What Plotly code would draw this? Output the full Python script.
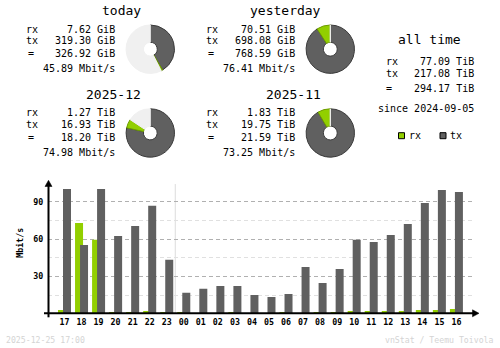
import plotly.graph_objects as go

W, H = 500, 348

# ---- hourly traffic for the last 24 hours (Mbit/s) ----
hours = ["17", "18", "19", "20", "21", "22", "23", "00", "01", "02", "03", "04",
         "05", "06", "07", "08", "09", "10", "11", "12", "13", "14", "15", "16"]
rx_mbit = [3.0, 72.9, 59.5, 1.4, 1.4, 2.2, 1.4, 1.4, 0.3, 0.3, 1.4, 0.3,
           0.3, 1.4, 0.3, 1.4, 1.4, 2.2, 2.2, 2.2, 2.2, 3.0, 3.0, 3.8]
tx_mbit = [100.3, 55.3, 100.3, 62.5, 70.5, 86.9, 43.4, 16.9, 20.1, 22.3, 22.3, 15.0,
           13.4, 15.8, 37.6, 24.7, 36.0, 59.5, 57.7, 63.3, 72.1, 89.0, 99.5, 97.9]
y_major = [30, 60, 90]
y_minor = [15, 45, 75]

# ---- period summaries ----
periods = ["today", "yesterday", "2025-12", "2025-11"]
period_unit = ["GiB", "GiB", "TiB", "TiB"]
period_rx = [7.62, 70.51, 1.27, 1.83]
period_tx = [319.30, 698.08, 16.93, 19.75]
period_total = [326.92, 768.59, 18.20, 21.59]
period_rate = [45.89, 76.41, 74.98, 73.25]

alltime_unit = "TiB"
alltime_rx = 77.09
alltime_tx = 217.08
alltime_total = 294.17
alltime_since = "2024-09-05"

stamp = "2025-12-25 17:00"
credit = "vnStat / Teemu Toivola"

RX_COLOR = "#92CF00"
TX_COLOR = "#606060"
RX_EDGE = "#6E9C00"
TX_EDGE = "#3A3A3A"
REST_COLOR = "#F0F0F0"
MONO = "DejaVu Sans Mono"


def px(x):
    return x / W


def py(y):
    return 1 - y / H


annotations = []
shapes = []


def text(x, y, s, size=10, xanchor="left", color="#000000", weight="normal", angle=0):
    annotations.append(dict(
        x=px(x), y=py(y), xref="paper", yref="paper", text=s, showarrow=False,
        xanchor=xanchor, yanchor="middle", textangle=angle, borderpad=0,
        font=dict(family=MONO, size=size, color=color, weight=weight),
    ))


fig = go.Figure()

# ---- summary blocks: text + donut per period ----
origins = [(0, 0), (180, 0), (0, 83.8), (180, 83.8)]
pairs = [(0, 1), (0, 1), (2, 3), (2, 3)]
for k, name in enumerate(periods):
    ox, oy = origins[k]
    u = period_unit[k]
    text(141.7 + ox, 10.8 + oy, name, size=13, xanchor="right")
    text(25.3 + ox, 29.0 + oy, "rx")
    text(25.3 + ox, 40.7 + oy, "tx")
    text(31.3 + ox, 54.0 + oy, "=", xanchor="center")
    text(115.5 + ox, 29.0 + oy, f"{period_rx[k]:.2f} {u}", xanchor="right")
    text(115.5 + ox, 40.7 + oy, f"{period_tx[k]:.2f} {u}", xanchor="right")
    text(115.5 + ox, 54.0 + oy, f"{period_total[k]:.2f} {u}", xanchor="right")
    text(115.5 + ox, 68.3 + oy, f"{period_rate[k]:.2f} Mbit/s", xanchor="right")

    ref = max(period_total[i] for i in pairs[k])
    rest = ref - period_total[k]
    cx, cy, r = 150.3 + ox, 49.2 + oy, 24.2
    fig.add_trace(go.Pie(
        values=[period_tx[k], period_rx[k], rest],
        marker=dict(colors=[TX_COLOR, RX_COLOR, REST_COLOR],
                    line=dict(color=[TX_EDGE, RX_EDGE, REST_COLOR], width=1)),
        hole=0.285, sort=False, direction="clockwise", rotation=0,
        textinfo="none", hoverinfo="skip", showlegend=False,
        domain=dict(x=[px(cx - r), px(cx + r)], y=[py(cy + r), py(cy - r)]),
    ))

# ---- all time block ----
text(429.2, 39.3, "all time", size=13, xanchor="center")
text(385.0, 62.0, "rx")
text(385.0, 73.7, "tx")
text(389.3, 88.0, "=", xanchor="center")
text(474.5, 62.0, f"{alltime_rx:.2f} {alltime_unit}", xanchor="right")
text(474.5, 73.7, f"{alltime_tx:.2f} {alltime_unit}", xanchor="right")
text(474.5, 88.0, f"{alltime_total:.2f} {alltime_unit}", xanchor="right")
text(474.5, 108.3, f"since {alltime_since}", xanchor="right")

# legend swatches
for x0, col, lab, tx0 in [(398.5, RX_COLOR, "rx", 408.3), (440.0, TX_COLOR, "tx", 449.0)]:
    shapes.append(dict(type="rect", xref="paper", yref="paper",
                       x0=px(x0), x1=px(x0 + 6), y0=py(138.7), y1=py(132.7),
                       fillcolor=col, line=dict(color="#000000", width=1)))
    text(tx0, 135.7, lab)

# ---- hourly bar chart ----
cat_px = 17.04
bar_w = 8 / cat_px
fig.add_trace(go.Bar(x=hours, y=rx_mbit, marker=dict(color=RX_COLOR, line=dict(width=0)),
                     width=bar_w, offset=-6.5 / cat_px, hoverinfo="skip", showlegend=False))
fig.add_trace(go.Bar(x=hours, y=tx_mbit, marker=dict(color=TX_COLOR, line=dict(width=0)),
                     width=bar_w, offset=-1.5 / cat_px, hoverinfo="skip", showlegend=False))

x_left, x_right = 48.3, 473.0
first_center = 64.5
y_base, y_top, px_per_unit = 313.7, 181.0, 1.2433

# day boundary between 23 and 00
shapes.append(dict(type="line", xref="x", yref="y", x0=6.5, x1=6.5, y0=0, y1=104.3,
                   line=dict(color="#DCDCDC", width=1), layer="below"))

# axis lines with arrow heads
ax_y = 313.3
shapes.append(dict(type="line", xref="paper", yref="paper", x0=px(44), x1=px(474),
                   y0=py(ax_y), y1=py(ax_y), line=dict(color="#000000", width=2)))
shapes.append(dict(type="path", xref="paper", yref="paper",
                   path=f"M {px(472.5)} {py(ax_y - 3.5)} L {px(479)} {py(ax_y)} L {px(472.5)} {py(ax_y + 3.5)} Z",
                   fillcolor="#000000", line=dict(color="#000000", width=0.5)))
shapes.append(dict(type="line", xref="paper", yref="paper", x0=px(48.5), x1=px(48.5),
                   y0=py(317.3), y1=py(185), line=dict(color="#000000", width=2)))
shapes.append(dict(type="path", xref="paper", yref="paper",
                   path=f"M {px(45)} {py(186.5)} L {px(48.5)} {py(180.3)} L {px(52)} {py(186.5)} Z",
                   fillcolor="#000000", line=dict(color="#000000", width=0.5)))

text(14.5, 243.3, "Mbit/s", size=8.3, weight="bold", angle=-90)
text(5, 340.0, stamp, size=8.2, color="#D4D4D4")
text(495, 340.0, credit, size=8.2, color="#D4D4D4", xanchor="right")

fig.update_layout(
    width=W, height=H, margin=dict(l=0, r=0, t=0, b=0),
    paper_bgcolor="#FFFFFF", plot_bgcolor="#FFFFFF",
    barmode="overlay", showlegend=False,
    annotations=annotations, shapes=shapes,
    xaxis=dict(
        domain=[px(x_left), px(x_right)],
        range=[(x_left - first_center) / cat_px, (x_right - first_center) / cat_px],
        type="category", showgrid=False, zeroline=False, showline=False, ticks="",
        tickfont=dict(family=MONO, size=8.3, color="#000000", weight="bold"),
        ticklabelstandoff=2,
    ),
    yaxis=dict(
        domain=[py(y_base), py(y_top)],
        range=[0, (y_base - y_top) / px_per_unit],
        tickmode="array", tickvals=y_major, showgrid=True, gridcolor="#B0B0B0",
        griddash="4px,3px", gridwidth=1, zeroline=False, showline=False, ticks="",
        tickfont=dict(family=MONO, size=8.3, color="#000000", weight="bold"),
        ticklabelstandoff=4,
        minor=dict(tickmode="array", tickvals=y_minor, showgrid=True,
                   gridcolor="#E0E0E0", griddash="4px,3px", gridwidth=1),
    ),
)

fig.write_html("out.html")
